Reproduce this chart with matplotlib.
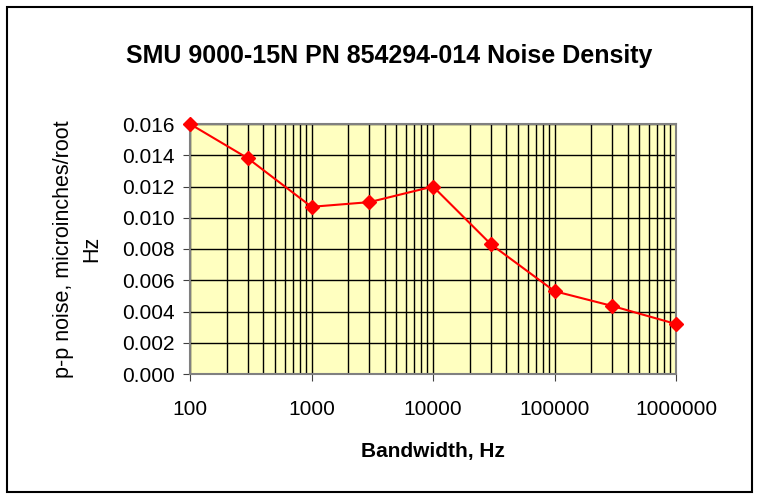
import matplotlib.pyplot as plt
from matplotlib.patches import Rectangle
from matplotlib.ticker import FixedLocator, LogLocator, NullFormatter

plt.rcParams['font.family'] = ['Liberation Sans', 'DejaVu Sans']

# Data
bandwidth_hz = [100, 300, 1000, 3000, 10000, 30000, 100000, 300000, 1000000]
noise = [0.0160, 0.0138, 0.0107, 0.0110, 0.0120, 0.0083, 0.0053, 0.00435, 0.0032]
x_ticks = [100, 1000, 10000, 100000, 1000000]
x_tick_labels = ["100", "1000", "10000", "100000", "1000000"]
y_ticks = [0.000, 0.002, 0.004, 0.006, 0.008, 0.010, 0.012, 0.014, 0.016]

fig = plt.figure(figsize=(7.6, 4.99), dpi=100)
ax = fig.add_axes([190 / 760, 1 - 374 / 499, (676 - 190) / 760, (374 - 124) / 499])

# black outer chart border
fig.patches.append(Rectangle((7 / 760, 7 / 499), 745 / 760, 485 / 499,
                             transform=fig.transFigure, fill=False,
                             edgecolor="black", linewidth=1.5))

ax.set_facecolor("#FFFFC0")
ax.plot(bandwidth_hz, noise, color="red", linewidth=1.5, marker="D",
        markersize=7, markerfacecolor="red", markeredgecolor="red",
        clip_on=False, zorder=3)

ax.set_xscale("log")
ax.set_xlim(100, 1000000)
ax.set_ylim(0, 0.016)
ax.xaxis.set_major_locator(FixedLocator(x_ticks))
ax.set_xticklabels(x_tick_labels)
ax.xaxis.set_minor_locator(LogLocator(base=10, subs=range(2, 10)))
ax.xaxis.set_minor_formatter(NullFormatter())
ax.set_yticks(y_ticks)
ax.set_yticklabels([f"{v:.3f}" for v in y_ticks])

ax.grid(True, which="major", axis="both", color="black", linewidth=1.0)
ax.grid(True, which="minor", axis="x", color="black", linewidth=1.0)
ax.set_axisbelow(True)
ax.tick_params(axis="y", which="major", labelsize=15, length=5,
               direction="out", color="#404040", pad=6)
ax.tick_params(axis="x", which="major", labelsize=15, length=5,
               direction="out", color="#404040", pad=14)
ax.tick_params(axis="x", which="minor", length=0)
for side in ["left", "bottom", "right", "top"]:
    ax.spines[side].set_color("#808080")
    ax.spines[side].set_linewidth(1.5)

ax.set_title("SMU 9000-15N PN 854294-014 Noise Density", fontsize=18,
             fontweight="bold", pad=44, x=0.41)
ax.set_xlabel("Bandwidth, Hz", fontsize=15, fontweight="bold", labelpad=16)
ax.set_ylabel("p-p noise, microinches/root\nHz", fontsize=15.5, labelpad=14,
              linespacing=1.45)

plt.savefig("out.png", dpi=100)
